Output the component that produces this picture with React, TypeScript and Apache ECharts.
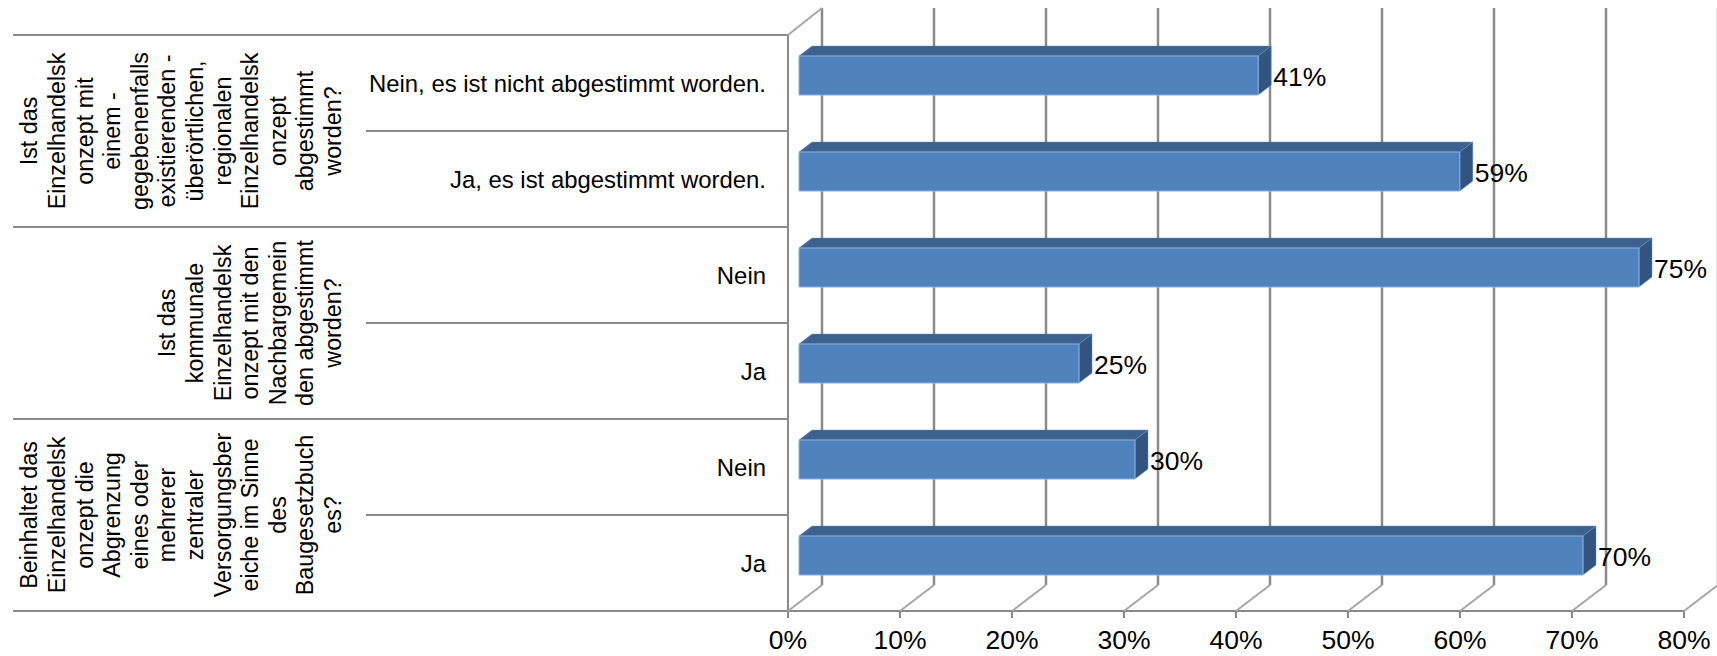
import React, { useEffect, useRef } from "react";
import * as echarts from "echarts";

const categories = [
  "Nein, es ist nicht abgestimmt worden.",
  "Ja, es ist abgestimmt worden.",
  "Nein",
  "Ja",
  "Nein",
  "Ja",
];
const values = [41, 59, 75, 25, 30, 70];
const tickValues = [0, 10, 20, 30, 40, 50, 60, 70, 80];
const groupStarts = [0, 2, 4];
const groupLines = [
  ["Ist das", "Einzelhandelsk", "onzept mit", "einem -", "gegebenenfalls", "existierenden -", "überörtlichen,", "regionalen", "Einzelhandelsk", "onzept", "abgestimmt", "worden?"],
  ["Ist das", "kommunale", "Einzelhandelsk", "onzept mit den", "Nachbargemein", "den abgestimmt", "worden?"],
  ["Beinhaltet das", "Einzelhandelsk", "onzept die", "Abgrenzung", "eines oder", "mehrerer", "zentraler", "Versorgungsber", "eiche im Sinne", "des", "Baugesetzbuch", "es?"],
];

const FONT = "'Liberation Sans', Arial, sans-serif";
const LINE = "#8a8a8a";
const WALL_DX = 34;
const WALL_DY = 26;
const FRONT_DX = 11;
const DEPTH_DX = 13;
const DEPTH_DY = 10;

export default function App() {
  const ref = useRef<HTMLDivElement>(null);
  useEffect(() => {
    const chart = echarts.init(ref.current!, null, { renderer: "svg" });
    chart.setOption({
      animation: false,
      backgroundColor: "#fff",
      grid: { left: 788, right: 33, top: 35, bottom: 45, containLabel: false },
      xAxis: {
        type: "value",
        min: 0,
        max: 80,
        interval: 10,
        splitLine: { show: false },
        axisLine: { show: true, lineStyle: { color: LINE, width: 2 } },
        axisTick: { show: true, length: 7, lineStyle: { color: LINE, width: 2 } },
        axisLabel: { formatter: "{value}%", fontSize: 26.5, fontFamily: FONT, color: "#000", margin: 15 },
      },
      yAxis: {
        type: "category",
        inverse: true,
        data: categories,
        axisLine: { show: true, lineStyle: { color: LINE, width: 2 } },
        axisTick: { show: true, length: 422, lineStyle: { color: LINE, width: 2 } },
        axisLabel: { fontSize: 23.9, fontFamily: FONT, color: "#000", margin: 22 },
      },
      series: [
        {
          // 3D walls: back-wall gridlines and floor diagonals
          type: "custom",
          z: 1,
          silent: true,
          data: tickValues.map((t) => [t, 0]),
          encode: { x: 0, y: 1 },
          renderItem: (params: any, api: any) => {
            const x = api.coord([api.value(0), 0])[0];
            const top = params.coordSys.y;
            const bottom = top + params.coordSys.height;
            const children: any[] = [
              {
                type: "line",
                shape: { x1: x + WALL_DX, y1: top - 27, x2: x + WALL_DX, y2: bottom - WALL_DY },
                style: { stroke: LINE, lineWidth: 2.5 },
              },
              {
                type: "line",
                shape: { x1: x, y1: bottom, x2: x + WALL_DX, y2: bottom - WALL_DY },
                style: { stroke: "#a6a6a6", lineWidth: 2 },
              },
            ];
            if (api.value(0) === 0) {
              children.push({
                type: "line",
                shape: { x1: x, y1: top, x2: x + WALL_DX, y2: top - 27 },
                style: { stroke: "#a6a6a6", lineWidth: 2 },
              });
            }
            return { type: "group", children };
          },
        },
        {
          // Bars as 3D boxes
          type: "custom",
          z: 3,
          silent: true,
          data: values.map((v, i) => [v, i]),
          encode: { x: 0, y: 1 },
          renderItem: (_params: any, api: any) => {
            const v = api.value(0);
            const [x0, yc] = api.coord([0, api.value(1)]);
            const xv = api.coord([v, api.value(1)])[0];
            const l = x0 + FRONT_DX;
            const r = xv + FRONT_DX;
            const t = yc - 27;
            const b = yc + 12;
            return {
              type: "group",
              children: [
                {
                  type: "polygon",
                  shape: { points: [[l, t], [l + DEPTH_DX, t - DEPTH_DY], [r + DEPTH_DX, t - DEPTH_DY], [r, t]] },
                  style: { fill: "#3c618f", stroke: "#6f93c0", lineWidth: 0.5 },
                },
                {
                  type: "polygon",
                  shape: { points: [[r, t], [r + DEPTH_DX, t - DEPTH_DY], [r + DEPTH_DX, b - DEPTH_DY], [r, b]] },
                  style: { fill: "#32547e", stroke: "#6f93c0", lineWidth: 0.5 },
                },
                {
                  type: "rect",
                  shape: { x: l, y: t, width: r - l, height: b - t },
                  style: { fill: "#4f81bd", stroke: "#8cb0dc", lineWidth: 1 },
                },
                {
                  type: "text",
                  style: {
                    x: r + DEPTH_DX + 2,
                    y: yc - 6,
                    text: v + "%",
                    fontSize: 26.5,
                    fontFamily: FONT,
                    fill: "#000",
                    align: "left",
                    verticalAlign: "middle",
                  },
                },
              ],
            };
          },
        },
        {
          // Outer category level: rotated group titles and long separators
          type: "custom",
          z: 2,
          silent: true,
          data: groupStarts.map((s, g) => [0, s, g]),
          encode: { x: 0, y: 1 },
          renderItem: (_params: any, api: any) => {
            const g = api.value(2);
            const start = api.value(1);
            const p = api.coord([0, start]);
            const band = api.size([0, 1])[1];
            const x0 = p[0];
            const yTop = p[1] - band / 2;
            const yBottom = yTop + band * 2;
            const lines = groupLines[g];
            const children: any[] = [
              { type: "line", shape: { x1: x0 - 775, y1: yTop, x2: x0 - 422, y2: yTop }, style: { stroke: LINE, lineWidth: 2 } },
              { type: "line", shape: { x1: x0 - 775, y1: yBottom, x2: x0 - 422, y2: yBottom }, style: { stroke: LINE, lineWidth: 2 } },
            ];
            lines.forEach((line: string, k: number) => {
              children.push({
                type: "text",
                x: x0 - 455 - (lines.length - 1 - k) * 27.6,
                y: yTop + band,
                rotation: Math.PI / 2,
                style: {
                  text: line,
                  fontSize: 23.3,
                  fontFamily: FONT,
                  fill: "#000",
                  align: "center",
                  verticalAlign: "middle",
                },
              });
            });
            return { type: "group", children };
          },
        },
      ],
    });
    return () => chart.dispose();
  }, []);
  return <div ref={ref} style={{ position: "fixed", left: 0, top: 0, width: 1717, height: 656 }} />;
}
